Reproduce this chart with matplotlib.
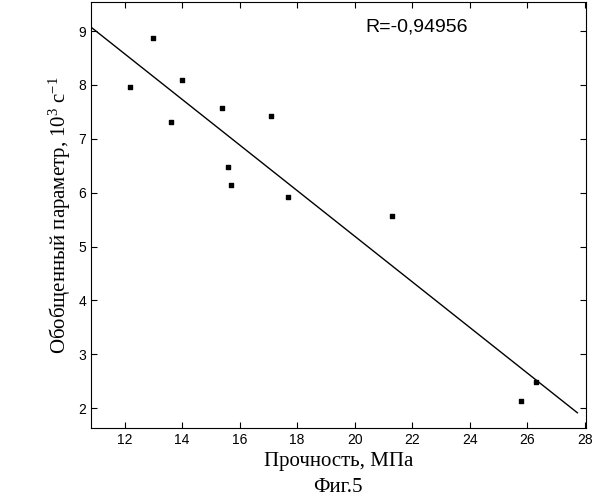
import numpy as np
import matplotlib
matplotlib.use("Agg")
import matplotlib.pyplot as plt

plt.rcParams['mathtext.fontset'] = 'custom'
plt.rcParams['mathtext.rm'] = 'Liberation Serif'
plt.rcParams['mathtext.it'] = 'Liberation Serif'

strength = [12.2, 13.0, 13.6, 14.0, 15.4, 15.6, 15.7, 17.1, 17.7, 21.3, 25.8, 26.3]
param = [7.97, 8.87, 7.32, 8.09, 7.58, 6.47, 6.15, 7.43, 5.91, 5.57, 2.14, 2.48]
xticks = [12, 14, 16, 18, 20, 22, 24, 26, 28]
yticks = [2, 3, 4, 5, 6, 7, 8, 9]

fig = plt.figure(figsize=(6.03, 5.0), dpi=100)
ax = fig.add_axes([91/603, 72/500, 495/603, 426/500])
ax.scatter(strength, param, marker='s', s=11, color='black', zorder=3)
k, b = np.polyfit(strength, param, 1)
xl = np.array([10.83, 27.75])
ax.plot(xl, k*xl + b, color='black', lw=1)
ax.set_xlim(10.83, 28.05)
ax.set_ylim(1.63, 9.54)
ax.set_xticks(xticks)
ax.set_yticks(yticks)
for lab in ax.get_xticklabels() + ax.get_yticklabels():
    lab.set_fontfamily('Liberation Sans')
    lab.set_fontsize(10)
ax.tick_params(direction='in', length=4, right=True, top=True)
ax.text(0.555, 0.93, "R=-0,94956", transform=ax.transAxes, fontsize=14,
        fontfamily='Liberation Sans')
ax.set_xlabel("Прочность, МПа", fontfamily='Liberation Serif', fontsize=15)
ax.set_ylabel(r"Обобщенный параметр, 10$^{3}$ с$^{-1}$", fontfamily='Liberation Serif', fontsize=15)
fig.text(338/603, 1 - 487/500, "Фиг.5", ha='center', va='center',
         fontfamily='Liberation Serif', fontsize=15)
fig.savefig("out.png", dpi=100)
